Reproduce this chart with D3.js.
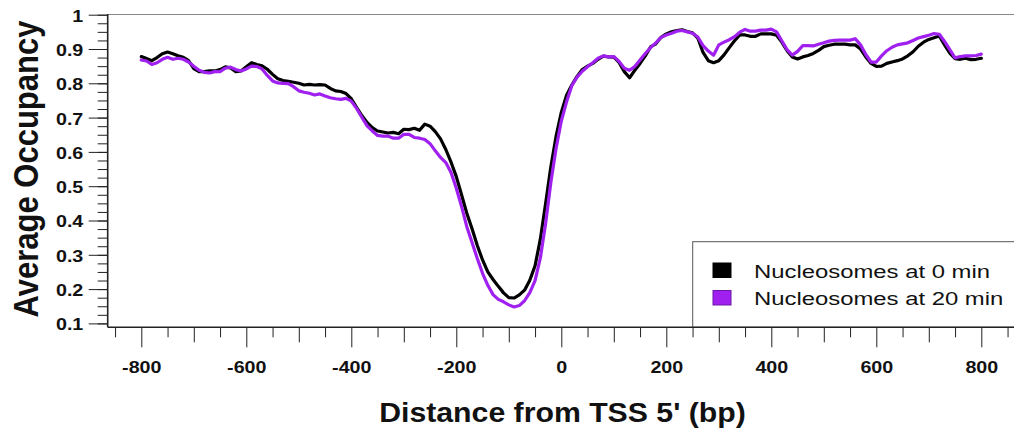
<!DOCTYPE html>
<html>
<head>
<meta charset="utf-8">
<script src="https://cdn.jsdelivr.net/npm/d3@7"></script>
<style>
  html, body { margin: 0; padding: 0; background: #fff; }
  svg { display: block; font-family: "Liberation Sans", Arial, Helvetica, sans-serif; }
</style>
</head>
<body>
<svg id="my_svg"></svg>
<script>
// distance from TSS (bp), one reading every 10 bp
const positions = d3.range(-800, 801, 10);

// Nucleosomes at 0 min
const occ0 = [
    0.878, 0.872, 0.866, 0.875, 0.886, 0.891, 0.886, 0.880, 0.876, 0.866,
    0.843, 0.834, 0.834, 0.836, 0.836, 0.840, 0.848, 0.845, 0.834, 0.836,
    0.848, 0.860, 0.855, 0.851, 0.841, 0.826, 0.813, 0.808, 0.806, 0.803,
    0.800, 0.795, 0.797, 0.795, 0.796, 0.795, 0.785, 0.778, 0.776, 0.770,
    0.755, 0.730, 0.706, 0.686, 0.671, 0.661, 0.658, 0.655, 0.657, 0.653,
    0.666, 0.665, 0.669, 0.663, 0.681, 0.675, 0.659, 0.638, 0.607, 0.570,
    0.528, 0.475, 0.421, 0.376, 0.327, 0.285, 0.250, 0.228, 0.208, 0.189,
    0.175, 0.174, 0.183, 0.197, 0.226, 0.268, 0.345, 0.448, 0.556, 0.645,
    0.715, 0.765, 0.795, 0.820, 0.840, 0.850, 0.858, 0.870, 0.879, 0.877,
    0.876, 0.861, 0.834, 0.816, 0.838, 0.858, 0.880, 0.906, 0.915, 0.934,
    0.944, 0.950, 0.954, 0.956, 0.951, 0.947, 0.932, 0.890, 0.866, 0.860,
    0.866, 0.883, 0.904, 0.924, 0.941, 0.941, 0.937, 0.937, 0.944, 0.944,
    0.944, 0.940, 0.920, 0.895, 0.877, 0.871, 0.877, 0.881, 0.887, 0.896,
    0.907, 0.911, 0.914, 0.914, 0.914, 0.912, 0.912, 0.900, 0.877, 0.858,
    0.849, 0.850, 0.858, 0.862, 0.866, 0.871, 0.880, 0.892, 0.908, 0.920,
    0.928, 0.933, 0.938, 0.912, 0.888, 0.872, 0.870, 0.873, 0.869, 0.870,
    0.873
];

// Nucleosomes at 20 min
const occ20 = [
    0.868, 0.865, 0.855, 0.860, 0.870, 0.876, 0.870, 0.873, 0.870, 0.862,
    0.850, 0.838, 0.832, 0.830, 0.834, 0.834, 0.844, 0.847, 0.840, 0.836,
    0.842, 0.850, 0.849, 0.842, 0.823, 0.807, 0.801, 0.800, 0.799, 0.790,
    0.778, 0.774, 0.771, 0.766, 0.769, 0.763, 0.758, 0.755, 0.753, 0.756,
    0.748, 0.727, 0.701, 0.676, 0.661, 0.648, 0.646, 0.646, 0.640, 0.640,
    0.651, 0.651, 0.642, 0.640, 0.636, 0.624, 0.603, 0.584, 0.569, 0.540,
    0.494, 0.441, 0.382, 0.336, 0.289, 0.246, 0.211, 0.184, 0.170, 0.163,
    0.154, 0.148, 0.152, 0.166, 0.190, 0.225, 0.290, 0.390, 0.510, 0.610,
    0.690, 0.746, 0.793, 0.818, 0.835, 0.848, 0.860, 0.873, 0.880, 0.877,
    0.878, 0.864, 0.844, 0.838, 0.849, 0.868, 0.887, 0.904, 0.918, 0.934,
    0.941, 0.946, 0.952, 0.954, 0.950, 0.946, 0.935, 0.910, 0.894, 0.882,
    0.912, 0.920, 0.927, 0.936, 0.949, 0.957, 0.952, 0.952, 0.955, 0.955,
    0.958, 0.950, 0.924, 0.898, 0.882, 0.893, 0.910, 0.910, 0.909, 0.914,
    0.918, 0.923, 0.925, 0.926, 0.926, 0.926, 0.930, 0.912, 0.884, 0.862,
    0.862, 0.880, 0.895, 0.905, 0.912, 0.915, 0.918, 0.925, 0.932, 0.936,
    0.940, 0.945, 0.943, 0.922, 0.898, 0.874, 0.878, 0.880, 0.880, 0.881,
    0.885
];

const seriesNames = ['Nucleosomes at 0 min', 'Nucleosomes at 20 min'];
const seriesColors = ['#000000', '#a020f0'];

const xTicks = [-800, -600, -400, -200, 0, 200, 400, 600, 800];
const xMidTicks = [-700, -500, -300, -100, 100, 300, 500, 700];
const xMinorTicks = [-850, -750, -650, -550, -450, -350, -250, -150, -50,
    50, 150, 250, 350, 450, 550, 650, 750, 850];
const yTicks = [0.1, 0.2, 0.3, 0.4, 0.5, 0.6, 0.7, 0.8, 0.9, 1];
const yMinorTicks = d3.range(0.1, 1.0001, 0.025);

const width = 1014;
const height = 435;

// the picture is a bit stretched sideways, so text gets a horizontal scale
const tickStretch = 1.23;

const svg = d3.select('#my_svg')
    .attr('width', width)
    .attr('height', height);

const frame = { left: 107.7, top: 14, right: 1030, bottom: 327.3 };

const x = d3.scaleLinear()
    .domain([-800, 800])
    .range([141.3, 981.3]);

const y = d3.scaleLinear()
    .domain([0.1, 1])
    .range([323.4, 14.7]);

// top border of the plot box
svg.append('line')
    .attr('x1', frame.left).attr('x2', frame.right)
    .attr('y1', frame.top + 0.5).attr('y2', frame.top + 0.5)
    .attr('stroke', '#8a8a8a')
    .attr('stroke-width', 1);

// curves
const line = d3.line()
    .x((d, i) => x(positions[i]))
    .y(d => y(d));

const curves_g = svg.append('g').attr('id', 'curves_g');
[occ0, occ20].forEach((values, k) => {
    curves_g.append('path')
        .datum(values)
        .attr('d', line)
        .attr('fill', 'none')
        .attr('stroke', seriesColors[k])
        .attr('stroke-width', 3.2)
        .attr('stroke-linejoin', 'round')
        .attr('stroke-linecap', 'round');
});

// legend box, runs off the right edge like the original
const legend_g = svg.append('g').attr('id', 'legend_g');
legend_g.append('rect')
    .attr('x', 692.7)
    .attr('y', 241.7)
    .attr('width', 400)
    .attr('height', frame.bottom - 241.7)
    .attr('fill', '#fff')
    .attr('stroke', '#555')
    .attr('stroke-width', 1);

seriesNames.forEach((name, k) => {
    const row = legend_g.append('g')
        .attr('transform', `translate(0, ${k * 27.5})`);
    row.append('rect')
        .attr('x', 713)
        .attr('y', 263)
        .attr('width', 18)
        .attr('height', 14.5)
        .attr('fill', seriesColors[k])
        .attr('stroke', k === 0 ? '#000' : '#6a1aa8')
        .attr('stroke-width', 1);
    row.append('text')
        .attr('transform', `translate(754, 277.5) scale(1.29, 1)`)
        .attr('font-size', 18.5)
        .attr('fill', '#111')
        .text(name);
});

// x axis: three tick lengths
function styleAxis(g) {
    g.select('.domain').remove();
    g.selectAll('line').attr('stroke', '#222').attr('stroke-width', 1);
}

const xAxis_g = svg.append('g').attr('transform', `translate(0, ${frame.bottom})`);
xAxis_g.append('g')
    .call(d3.axisBottom(x).tickValues(xMinorTicks).tickSize(10).tickFormat(''))
    .call(styleAxis);
xAxis_g.append('g')
    .call(d3.axisBottom(x).tickValues(xMidTicks).tickSize(15).tickFormat(''))
    .call(styleAxis);
xAxis_g.append('g')
    .call(d3.axisBottom(x).tickValues(xTicks).tickSize(20).tickFormat(d3.format('d')))
    .call(styleAxis)
    .call(g => g.selectAll('text')
        .attr('y', 34.8)
        .attr('font-size', 16)
        .attr('font-weight', 'bold')
        .attr('font-family', '"Liberation Sans", Arial, sans-serif')
        .attr('fill', '#111')
        .attr('transform', `scale(${tickStretch}, 1)`)
        .text(d => d < 0 ? '-' + Math.abs(d) : d));

// y axis
const yAxis_g = svg.append('g').attr('transform', `translate(${frame.left}, 0)`);
yAxis_g.append('g')
    .call(d3.axisLeft(y).tickValues(yMinorTicks).tickSize(10).tickFormat(''))
    .call(styleAxis);
yAxis_g.append('g')
    .call(d3.axisLeft(y).tickValues(yTicks).tickSize(19).tickFormat(d => d === 1 ? '1' : d3.format('.1f')(d)))
    .call(styleAxis)
    .call(g => g.selectAll('text')
        .attr('x', -24.4 / tickStretch)
        .attr('dy', '0.4em')
        .attr('font-size', 16)
        .attr('font-weight', 'bold')
        .attr('font-family', '"Liberation Sans", Arial, sans-serif')
        .attr('fill', '#111')
        .attr('transform', `scale(${tickStretch}, 1)`));

// axis lines on top of the ticks
svg.append('line')
    .attr('x1', frame.left).attr('x2', frame.left)
    .attr('y1', frame.top).attr('y2', frame.bottom)
    .attr('stroke', '#222')
    .attr('stroke-width', 1.6);
svg.append('line')
    .attr('x1', frame.left).attr('x2', frame.right)
    .attr('y1', frame.bottom).attr('y2', frame.bottom)
    .attr('stroke', '#222')
    .attr('stroke-width', 1.6);

// axis titles
svg.append('text')
    .attr('transform', 'translate(37.5, 169) scale(1.13, 1) rotate(-90)')
    .attr('text-anchor', 'middle')
    .attr('font-size', 31)
    .attr('font-weight', 'bold')
    .attr('fill', '#111')
    .text('Average Occupancy');

svg.append('text')
    .attr('transform', 'translate(562.5, 421.7) scale(1.08, 1)')
    .attr('text-anchor', 'middle')
    .attr('font-size', 28)
    .attr('font-weight', 'bold')
    .attr('fill', '#111')
    .text("Distance from TSS 5' (bp)");
</script>
</body>
</html>
